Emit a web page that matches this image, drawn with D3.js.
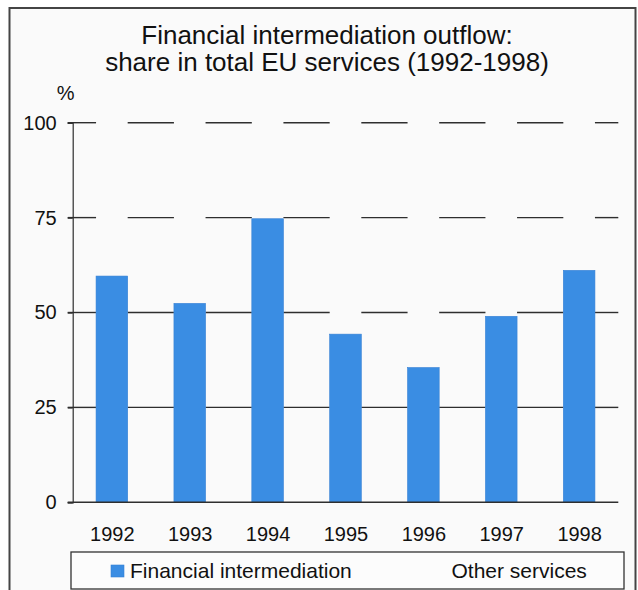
<!DOCTYPE html>
<html>
<head>
<meta charset="utf-8">
<script src="https://cdn.jsdelivr.net/npm/d3@7"></script>
<style>
  html, body { margin: 0; padding: 0; background: #ffffff; }
  svg { display: block; font-family: "Liberation Sans", Arial, Helvetica, sans-serif; }
</style>
</head>
<body>
<svg id="chart" width="638" height="590"></svg>
<script>
// ---- data ----
const years = ["1992", "1993", "1994", "1995", "1996", "1997", "1998"];
const financialShare = [59.6, 52.4, 74.7, 44.3, 35.5, 49.0, 61.1];
const yTicks = [0, 25, 50, 75, 100];
const titleLines = ["Financial intermediation outflow:", "share in total EU services (1992-1998)"];
const unitLabel = "%";
const legendLabels = ["Financial intermediation", "Other services"];

// ---- layout ----
const svg = d3.select("#chart");
const barColor = "#3a8de3";
const lineColor = "#2e2e2e";

const x = d3.scaleBand().domain(years).range([72.7, 618.3]).paddingInner(0.594).paddingOuter(0.3);
const y = d3.scaleLinear().domain([0, 100]).range([502.3, 122.7]);
const tickLeft = 67.7, axisX = 72.7, rightEnd = 618.3;

// outer frame
svg.append("rect").attr("x", 9.5).attr("y", 8).attr("width", 626).attr("height", 590)
  .attr("fill", "#fafafa").attr("stroke", "#444").attr("stroke-width", 2);

// title
svg.append("g").selectAll("text").data(titleLines).join("text")
  .attr("x", 327).attr("y", (d, i) => 44 + i * 27)
  .attr("text-anchor", "middle").attr("font-size", 26)
  .attr("fill", "#111").text(d => d);

// unit
svg.append("text").attr("x", 65.7).attr("y", 100).attr("text-anchor", "middle")
  .attr("font-size", 20).attr("fill", "#111").text(unitLabel);

// gridlines: segments between bars
const grid = svg.append("g").attr("stroke", lineColor).attr("stroke-width", 1.4);
yTicks.filter(t => t > 0).forEach(t => {
  const segs = [];
  let start = tickLeft;
  years.forEach(yr => {
    segs.push([start, x(yr)]);
    start = x(yr) + x.bandwidth();
  });
  segs.push([start, rightEnd]);
  segs.forEach(s => {
    grid.append("line").attr("x1", s[0]).attr("x2", s[1]).attr("y1", y(t)).attr("y2", y(t));
  });
});

// bars
svg.append("g").selectAll("rect").data(years).join("rect")
  .attr("x", d => x(d))
  .attr("width", x.bandwidth())
  .attr("y", (d, i) => y(financialShare[i]))
  .attr("height", (d, i) => y(0) - y(financialShare[i]))
  .attr("fill", barColor)
  .attr("stroke", "#3680d4").attr("stroke-width", 0.6);

// baseline and y axis
svg.append("line").attr("x1", tickLeft).attr("x2", rightEnd).attr("y1", y(0)).attr("y2", y(0))
  .attr("stroke", lineColor).attr("stroke-width", 1.4);
const yAxis = d3.axisLeft(y).tickValues(yTicks).tickSize(5).tickPadding(11).tickFormat(d3.format("d"));
const yg = svg.append("g").attr("transform", `translate(${axisX},0)`).call(yAxis);
yg.select(".domain").attr("stroke", lineColor).attr("stroke-width", 1.2);
yg.selectAll(".tick line").attr("stroke", lineColor).attr("stroke-width", 1.4);
yg.selectAll(".tick text").attr("font-size", 20).attr("fill", "#111")
  .attr("font-family", "Liberation Sans, Arial, sans-serif");

// x labels
svg.append("g").selectAll("text").data(years).join("text")
  .attr("x", d => x(d) + x.bandwidth() / 2 + 0.5)
  .attr("y", 540.5)
  .attr("text-anchor", "middle").attr("font-size", 20).attr("fill", "#111")
  .text(d => d);

// legend
const lg = svg.append("g");
lg.append("rect").attr("x", 71).attr("y", 552).attr("width", 553).attr("height", 37)
  .attr("fill", "#fcfcfc").attr("stroke", "#333").attr("stroke-width", 1.3);
lg.append("rect").attr("x", 111).attr("y", 565).attr("width", 13).attr("height", 12)
  .attr("fill", barColor).attr("stroke", "#3680d4").attr("stroke-width", 0.6);
lg.append("text").attr("x", 130).attr("y", 577.5).attr("font-size", 21).attr("fill", "#111")
  .text(legendLabels[0]);
lg.append("text").attr("x", 451.5).attr("y", 577.5).attr("font-size", 21).attr("fill", "#111")
  .text(legendLabels[1]);
</script>
</body>
</html>
